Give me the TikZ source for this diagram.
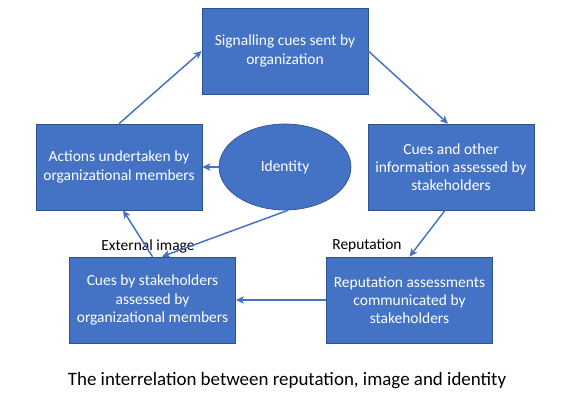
\documentclass[tikz,border=0pt]{standalone}
\usepackage{fontspec}
\setmainfont{Carlito}
\usetikzlibrary{arrows.meta,shapes.geometric}
\definecolor{offblue}{HTML}{4472C4}
\definecolor{offedge}{HTML}{2F528F}

\begin{document}
\begin{tikzpicture}[x=0.75pt, y=-0.75pt,
    box/.style={rectangle, fill=offblue, draw=offedge, line width=0.5pt,
      minimum width=124.5pt, minimum height=64.5pt, inner sep=2pt,
      text=white, align=center, font=\fontsize{11.6}{13.6}\selectfont},
    blob/.style={ellipse, fill=offblue, draw=offedge, line width=0.5pt,
      minimum width=99pt, minimum height=64.5pt, inner sep=0pt,
      text=white, font=\fontsize{11.6}{13.6}\selectfont},
    lab/.style={inner sep=0pt, font=\fontsize{11.6}{13.6}\selectfont},
    link/.style={draw=offblue, line width=1.1pt,
      -{Stealth[length=6pt, width=5.5pt, inset=1.5pt]}}]
  \useasboundingbox (0,0) rectangle (575,400);
  % ---- boxes ---------------------------------------------------------
  \node[box] (sig)  at (285,51)    {Signalling cues sent by\\organization};
  \node[box] (act)  at (119,167)   {Actions undertaken by\\organizational members};
  \node[blob] (ident) at (285,167) {Identity};
  \node[box] (cues) at (451,167)   {Cues and other\\information assessed by\\stakeholders};
  \node[box] (ext)  at (152.5,300) {Cues by stakeholders\\assessed by\\organizational members};
  \node[box] (rep)  at (409.5,300) {Reputation assessments\\communicated by\\stakeholders};
  % ---- labels --------------------------------------------------------
  \node[lab] (extlab) at (148,246) {External image};
  \node[lab] (replab) at (367,245) {Reputation};
  \node[lab, font=\fontsize{14.2}{16}\selectfont] (title) at (287,381)
    {The interrelation between reputation, image and identity};
  % ---- connectors ----------------------------------------------------
  \draw[link] (act.north) -- (sig.west);
  \draw[link] (sig.east) -- ([xshift=-2.25pt]cues.north);
  \draw[link] ([xshift=-4.5pt]cues.south) -- (rep.north);
  \draw[link] (rep.west) -- (ext.east);
  \draw[link] (ext.north) -- ([xshift=3pt]act.south);
  \draw[link] (ident.west) -- (act.east);
  \draw[link] (ident.-86) -- ([xshift=7pt]ext.north);
\end{tikzpicture}
\end{document}
